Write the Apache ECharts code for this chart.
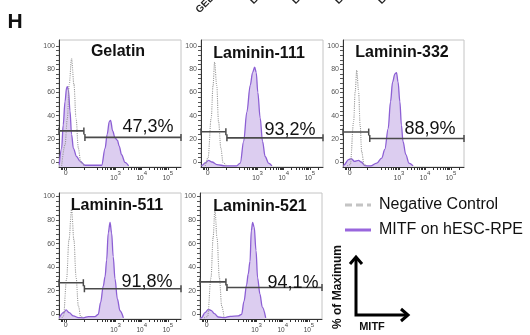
<!DOCTYPE html>
<html>
<head>
<meta charset="utf-8">
<script src="https://cdn.jsdelivr.net/npm/echarts@6/dist/echarts.min.js"></script>
<style>
  html, body { margin: 0; padding: 0; background: #fff; }
  #chart { width: 530px; height: 335px; }
</style>
</head>
<body>
<div id="chart"></div>
<script>
// x is in display units of the biexponential MITF axis: 10^3 -> 3, 10^4 -> 4, 10^5 -> 5
const xMin = 0.84, xMax = 5.5;

const panelTitles = ['Gelatin', 'Laminin-111', 'Laminin-332', 'Laminin-511', 'Laminin-521'];
const percentLabels = ['47,3%', '93,2%', '88,9%', '91,8%', '94,1%'];

// negative control histograms (% of max)
const negGelatin = [[0.94,-3],[1.07,15],[1.16,38],[1.23,67],[1.32,89],[1.41,67],[1.49,38],[1.58,12],[1.67,0],[1.8,-3]];
const neg111 = [[1.0,-3],[1.11,4],[1.23,38],[1.30,66],[1.36,86],[1.44,66],[1.51,35],[1.60,12],[1.68,0],[1.8,-3]];
const neg332 = [[1.0,-3],[1.12,-2],[1.25,35],[1.31,61],[1.37,79],[1.44,61],[1.50,32],[1.56,9],[1.65,-2],[1.75,-3]];
const neg511 = [[0.95,-3],[1.01,-1.5],[1.13,30],[1.22,63],[1.32,89],[1.41,63],[1.49,32],[1.58,7],[1.67,-2],[1.78,-3]];
const neg521 = [[1.0,-3],[1.13,-2],[1.26,31],[1.34,65],[1.41,89],[1.49,65],[1.58,31],[1.67,7],[1.76,-3]];

// MITF on hESC-RPE histograms
const mitfGelatin = [[0.85,-2],[0.94,12],[1.0,32],[1.07,52],[1.13,64],[1.16,65],[1.2,62],[1.26,44],[1.32,24],[1.39,12],[1.51,5],[1.64,1],[1.83,-2.5],[2.47,-2.5],[2.6,12],[2.68,24],[2.76,35],[2.81,36],[2.89,27],[2.98,21],[3.07,19],[3.14,14],[3.23,6.5],[3.36,0],[3.5,-3]];
const mitf111 = [[0.86,-3],[0.88,-2.5],[1.0,-0.5],[1.13,1.7],[1.26,0.3],[1.45,-2],[1.77,-3],[2.2,-3],[2.34,-0.6],[2.47,18],[2.59,43],[2.72,66],[2.81,77],[2.89,81.6],[2.95,77],[3.01,60],[3.10,38],[3.19,18],[3.29,5],[3.42,-0.6],[3.55,-3]];
const mitf332 = [[0.86,-3],[0.89,-2],[1.05,2.3],[1.16,3.1],[1.28,0.9],[1.44,1.7],[1.54,0.3],[1.69,-2.9],[1.9,-3],[2.14,-0.6],[2.33,3.7],[2.45,11],[2.58,29],[2.67,52],[2.75,69],[2.84,76],[2.9,77],[2.96,69],[3.03,52],[3.09,32],[3.15,18],[3.26,6.6],[3.38,-0.6],[3.54,-3]];
const mitf511 = [[0.85,-3],[1.01,1.4],[1.11,3.7],[1.23,1.4],[1.39,-1.4],[1.58,-2.8],[1.77,-3],[1.96,-2],[2.21,-2],[2.34,0],[2.43,10],[2.53,24],[2.6,32],[2.66,46],[2.72,69],[2.79,78],[2.85,69],[2.91,49],[2.98,30],[3.07,13],[3.17,3],[3.3,-3]];
const mitf521 = [[0.85,-3],[0.9,-2.8],[1.03,1.4],[1.16,4.2],[1.26,3.4],[1.39,0.6],[1.54,-2.3],[1.79,-2.8],[1.99,-1.7],[2.30,-1.4],[2.43,0],[2.52,11],[2.62,25],[2.68,34],[2.75,45],[2.8,71],[2.85,78],[2.91,74],[2.98,54],[3.04,31],[3.13,17],[3.22,6],[3.35,-3]];

// gates: split point, negative gate height, positive gate height
const gateSplit = [1.79, 1.79, 1.83, 1.77, 1.83];
const gateNegY = [27, 26.3, 26, 26.8, 27.5];
const gatePosY = [21.4, 21, 20.5, 21.7, 22.7];

// tick labels
const xLabelValues = [1.1, 3, 4, 5];
const xTickValues = [0.93, 0.98, 1.03, 1.1, 1.79, 2.3, 2.48, 2.6, 2.7, 2.78, 2.85, 2.9, 2.95, 3, 3.3, 3.48, 3.6, 3.7, 3.78, 3.85, 3.9, 3.95, 4, 4.3, 4.48, 4.6, 4.7, 4.78, 4.85, 4.9, 4.95, 5, 5.3];
const yLabelValues = [0, 20, 40, 60, 80, 100];
const yTickValues = [0,4,8,12,16,20,24,28,32,36,40,44,48,52,56,60,64,68,72,76,80,84,88,92,96,100];

const negData = [negGelatin, neg111, neg332, neg511, neg521];
const mitfData = [mitfGelatin, mitf111, mitf332, mitf511, mitf521];

// layout of the five panels
const panels = [
  { left: 59, top: 40, width: 122, height: 127, yMax: 105, title: [118, 52], pct: [148, 127] },
  { left: 201, top: 40, width: 122, height: 127, yMax: 105, title: [259, 54], pct: [290, 130] },
  { left: 343, top: 40, width: 121, height: 127, yMax: 105, title: [402, 53], pct: [430, 129] },
  { left: 59, top: 193, width: 122, height: 126, yMax: 103, title: [117, 206], pct: [147, 282] },
  { left: 200, top: 193, width: 122, height: 126, yMax: 103, title: [260, 207], pct: [293, 283] }
];

const FONT = "'Liberation Sans', Arial, sans-serif";
const PURPLE = '#8c5fd4';

const grid = [], xAxis = [], yAxis = [], series = [], graphic = [];

panels.forEach(function (p, i) {
  grid.push({
    left: p.left, top: p.top, width: p.width, height: p.height,
    show: true, borderColor: '#c4c4c4', borderWidth: 1
  });
  xAxis.push({
    gridIndex: i, type: 'value', min: xMin, max: xMax,
    axisLine: { show: true, onZero: false, lineStyle: { color: '#333', width: 1 } },
    splitLine: { show: false },
    axisTick: { show: true, customValues: xTickValues, length: 3, lineStyle: { color: '#333' } },
    axisLabel: {
      customValues: xLabelValues, margin: 3, color: '#444', fontFamily: FONT,
      formatter: function (v) {
        return v < 2 ? '{z|0}' : '{b|10}{s|' + Math.round(v) + '}';
      },
      rich: {
        z: { fontSize: 7, color: '#444', fontFamily: FONT, lineHeight: 10, verticalAlign: 'top' },
        b: { fontSize: 6.5, color: '#444', fontFamily: FONT, lineHeight: 12, verticalAlign: 'bottom' },
        s: { fontSize: 6, color: '#444', fontFamily: FONT, verticalAlign: 'top' }
      }
    }
  });
  yAxis.push({
    gridIndex: i, type: 'value', min: -4, max: p.yMax,
    axisLine: { show: true, lineStyle: { color: '#333', width: 1 } },
    splitLine: { show: false },
    axisTick: { show: true, customValues: yTickValues, length: 3, lineStyle: { color: '#555' } },
    axisLabel: { customValues: yLabelValues, fontSize: 7, color: '#555', margin: 4, fontFamily: FONT }
  });

  series.push({
    type: 'line', xAxisIndex: i, yAxisIndex: i, data: mitfData[i],
    smooth: 0.35, smoothMonotone: 'x', symbol: 'none', z: 2,
    lineStyle: { color: PURPLE, width: 1.3 },
    areaStyle: { color: '#dccdf0', opacity: 1, origin: 'start' }
  });
  series.push({
    type: 'line', xAxisIndex: i, yAxisIndex: i, data: negData[i],
    smooth: 0.35, smoothMonotone: 'x', symbol: 'none', z: 3,
    lineStyle: { color: '#9a9a9a', width: 1.1, type: 'dotted' }
  });
  series.push({
    type: 'line', xAxisIndex: i, yAxisIndex: i, z: 4, clip: false,
    data: [[xMin, gateNegY[i]], [gateSplit[i], gateNegY[i]]],
    symbol: 'rect', symbolSize: [1.5, 7],
    itemStyle: { color: '#4a4a4a' }, lineStyle: { color: '#4a4a4a', width: 1.6 }
  });
  series.push({
    type: 'line', xAxisIndex: i, yAxisIndex: i, z: 4, clip: false,
    data: [[gateSplit[i] + 0.04, gatePosY[i]], [xMax, gatePosY[i]]],
    symbol: 'rect', symbolSize: [1.5, 7],
    itemStyle: { color: '#4a4a4a' }, lineStyle: { color: '#4a4a4a', width: 1.6 }
  });

  graphic.push({
    type: 'text', x: p.title[0], y: p.title[1], z: 10,
    style: { text: panelTitles[i], font: 'bold 16px ' + FONT, fill: '#111', align: 'center', verticalAlign: 'middle' }
  });
  graphic.push({
    type: 'text', x: p.pct[0], y: p.pct[1], z: 10,
    style: { text: percentLabels[i], font: '18px ' + FONT, fill: '#111', align: 'center', verticalAlign: 'middle' }
  });
});

// panel letter and cut-off column labels from the panel above
graphic.push({ type: 'text', x: 15, y: 22, style: { text: 'H', font: 'bold 21px ' + FONT, fill: '#111', align: 'center', verticalAlign: 'middle' } });
[['GELATIN', 201, 15], ['LN111', 255, 6], ['LN332', 297, 6], ['LN511', 340, 6], ['LN521', 383, 6]].forEach(function (t) {
  graphic.push({ type: 'text', x: t[1], y: t[2], rotation: Math.PI / 4,
    style: { text: t[0], font: 'bold 10px ' + FONT, fill: '#222', align: 'left', verticalAlign: 'bottom' } });
});

// legend
graphic.push({ type: 'line', shape: { x1: 345, y1: 205, x2: 371, y2: 205 }, style: { stroke: '#c4c4c4', lineWidth: 3, lineDash: [7, 4] } });
graphic.push({ type: 'text', x: 379, y: 205, style: { text: 'Negative Control', font: '16px ' + FONT, fill: '#111', verticalAlign: 'middle' } });
graphic.push({ type: 'line', shape: { x1: 345, y1: 230, x2: 371, y2: 230 }, style: { stroke: '#9966dd', lineWidth: 3 } });
graphic.push({ type: 'text', x: 379, y: 230, style: { text: 'MITF on hESC-RPE', font: '16px ' + FONT, fill: '#111', verticalAlign: 'middle' } });

// axis arrows
graphic.push({ type: 'polyline', shape: { points: [[356, 258], [356, 315], [407, 315]] }, style: { stroke: '#000', lineWidth: 3, fill: null } });
graphic.push({ type: 'polyline', shape: { points: [[350, 264], [356, 257], [362, 264]] }, style: { stroke: '#000', lineWidth: 3, fill: null } });
graphic.push({ type: 'polyline', shape: { points: [[401, 309], [408, 315], [401, 321]] }, style: { stroke: '#000', lineWidth: 3, fill: null } });
graphic.push({ type: 'text', x: 338, y: 287, rotation: Math.PI / 2,
  style: { text: '% of Maximum', font: 'bold 12px ' + FONT, fill: '#111', align: 'center', verticalAlign: 'middle' } });
graphic.push({ type: 'text', x: 372, y: 327, style: { text: 'MITF', font: 'bold 11px ' + FONT, fill: '#111', align: 'center', verticalAlign: 'middle' } });

const chart = echarts.init(document.getElementById('chart'));
chart.setOption({
  animation: false,
  backgroundColor: '#fff',
  grid: grid,
  xAxis: xAxis,
  yAxis: yAxis,
  series: series,
  graphic: graphic
});
</script>
</body>
</html>
